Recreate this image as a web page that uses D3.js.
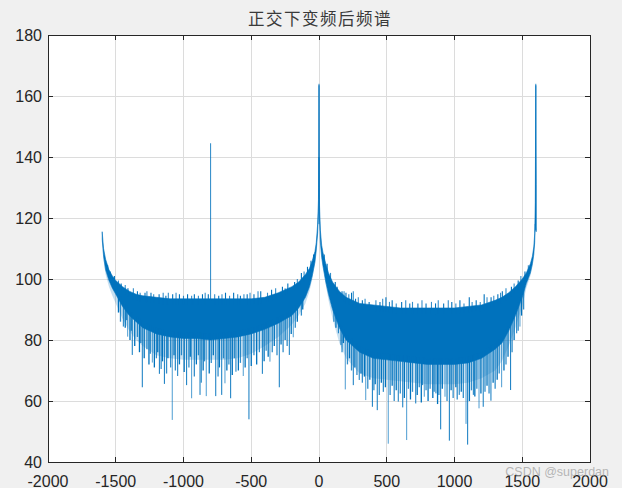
<!DOCTYPE html>
<html><head><meta charset="utf-8">
<script src="https://cdn.jsdelivr.net/npm/d3@7"></script>
<style>body{margin:0;background:#f0f0f0;overflow:hidden} svg{display:block}</style>
</head><body>
<svg id="c" width="622" height="488"></svg>
<script>
// ---------- data ----------
const titleText = "正交下变频后频谱";
const xTicks = [-2000,-1500,-1000,-500,0,500,1000,1500,2000];
const yTicks = [40,60,80,100,120,140,160,180];

// frequency grid of the envelope (Hz)
const freq = [-1600,-1590,-1575,-1550,-1525,-1500,-1450,-1400,-1350,-1300,
  -1200,-1100,-1000,-900,-800,-700,-600,-500,-400,-300,
  -200,-150,-100,-70,-50,-30,-20,-10,-4,-1,
  0,1,4,10,20,30,50,70,100,150,
  200,300,400,500,600,700,800,900,1000,1100,
  1200,1300,1350,1400,1450,1500,1530,1560,1575,1585,
  1592,1596,1600,1603];
// upper edge of the noise band (dB)
const upper = [115.5,110,106.5,103,101,99.5,97.5,96,95,94.5,
  94,93.5,93.5,93.5,93.5,93.5,93.5,93.5,94,95.5,
  97.5,99,101.5,103.5,106,109,112,118,126,140,
  163.5,140,124,116,111,108.5,105,102,99,96,
  94,92,91.5,91,90.5,90.5,90.5,90.5,90.5,91,
  91.5,93,94,95.5,97.5,100,102,105,107.5,110.5,
  115,125,163.5,131];
// lower edge of the dense part of the band (dB)
const lower = [113,107.5,103,99.5,97,95,91,88,86,84,
  82,81,80.5,80.5,80,80.5,81,82,83.5,85.5,
  88,90.5,94,97.5,101,105.5,109.5,115,122,130,
  140,130,120,112,107,104,99,95,90,84,
  80,76,74,73.5,73,72.5,72,72,72,72.5,
  74,77,79,83,88,94,98.5,102,105,108,
  112,118,116,115.5];
// lower edge of the sparse fringe (dB)
const fringe = [112,106,101.5,97.5,94.5,92,87,83,80,78,
  75,74,73.5,73.5,73.5,73.5,74,75.5,78,81,
  85,88,92,96,100,105,109,115,122,130,
  140,130,120,112,107,104,98,93,87,79,
  74,69,67.5,67,66.5,66,65.5,65.5,65.5,66,
  67.5,70,73,78,84,91,97,101,104,107.5,
  112,118,116,115.5];

// deep downward spikes
const downF = [-1444,-1412,-1378,-1304,-1230,-1178,-1141,-1083,-1043,-977,
  -940,-878,-869,-832,-762,-718,-694,-652,-613,-559,
  -517,-418,-362,-293,-219,-190,
  143,162,194,253,297,345,394,430,511,585,
  618,647,714,765,777,863,898,930,962,1035,
  1085,1097,1139,1181,1212,1269,1348,1414,1459,1483];
const downV = [84.4,81.1,75.1,64.5,72.6,68.9,65.6,53.8,68.2,65.2,
  60.9,62,66,61.6,61.6,62,65.8,60.9,69.6,68.2,
  54,68.9,72.9,64.5,75.1,80.9,
  82.2,78.4,63.8,65.2,66.9,60.3,58.1,57,46,59.8,
  57.9,47.2,59.2,65.2,61.4,62.5,50.7,61.4,47,62,
  52.5,45.7,62,57.6,58.1,60.1,64.5,63.6,82.2,84.4];
// shorter downward spikes in the fringe
const midF = [-1480,-1465,-1430,-1420,-1395,-1385,-1360,-1340,-1325,-1315,
  -1290,-1270,-1255,-1245,-1215,-1200,-1190,-1165,-1155,-1125,
  -1115,-1095,-1070,-1060,-1030,-1015,-995,-960,-950,-920,
  -905,-890,-855,-845,-810,-795,-780,-745,-735,-705,
  -680,-665,-640,-625,-595,-580,-545,-530,-500,-480,
  -460,-440,-405,-390,-375,-345,-330,-310,-280,-265,
  -250,-235,-205,-175,-160,-130,-120,
  110,125,170,180,210,225,240,265,280,310,
  320,335,360,375,405,415,445,460,475,490,
  525,540,555,570,600,630,660,675,690,725,
  740,755,790,805,820,840,850,875,885,910,
  945,975,990,1010,1020,1050,1065,1110,1125,1150,
  1165,1195,1225,1240,1255,1285,1300,1315,1330,1365,
  1380,1395,1425,1440,1470,1495,1510];
const midV = [89,86,84,86.5,80,83,78,81,76,79,
  74,77,72,75.5,71,74,76,70.5,73,69,
  74,71,75,70,72,75,69.5,71,74.5,68,
  72,75,70,73,69,72.5,75,68,71,74,
  70,72,68.5,74,70,72.5,71,74,71.5,75,
  72,76,73,76.5,74.5,76,78,75,78.5,76,
  80,78,82,84,86,88,90,
  86,84,76,79,72,74,70,71,68.5,69,
  66,68,64,67,63.5,65.5,62,66,63,64.5,
  62,65,60,63.5,62.5,61,64,60.5,63,62,
  64.5,59.5,63.5,60,64,61,63,59,62,64,
  60,63.5,61,64.5,60.5,63,61,60,63.5,61.5,
  64,62.5,63,65,62.5,66,64,67,69,70,
  72,74.5,76,80,83,88,90];
// small upward spikes above the band
const upF = [-1560,-1540,-1510,-1480,-1460,-1430,-1410,-1370,-1340,-1320,
  -1284,-1270,-1240,-1220,-1180,-1150,-1130,-1112,-1080,-1055,
  -1030,-1000,-970,-940,-920,-890,-860,-840,-817,-770,
  -740,-716,-690,-660,-630,-600,-580,-554,-530,-509,
  -480,-450,-430,-380,-350,-320,-270,-250,-230,-214,
  -180,-160,-130,-110,-85,-60,-40,
  40,60,85,120,135,170,185,199,220,240,
  253,270,290,320,340,370,420,450,470,494,
  520,540,570,610,640,670,690,730,760,790,
  830,860,880,920,954,980,1010,1040,1070,1109,
  1130,1160,1190,1219,1240,1270,1290,1320,1340,1353,
  1380,1420,1440,1470,1490,1520,1545];
const upV = [104.5,102.5,101,99.5,98.5,98,97,97,96,95.5,
  95.5,96,95.5,95,95,95.5,94.5,95.5,95,95.5,
  95,94.5,95,94.5,95,94.5,95,95.5,95,95,
  94.5,95,95.5,94.5,95.5,95,94.5,95,95,95.5,
  95,96,96,95.5,96.5,97,97.5,97,98.5,97,
  99,100,102,102.5,104,106,108,
  108,105,102,99,97.5,96,96,95.5,95,95.5,
  96,93.5,94,93,93.5,92.5,93,92.5,93.5,94,
  92.5,93,92,92.5,93,92,92.5,92,93,92,
  92.5,92,93,92,93,92.5,92,93,92,94,
  92.5,93,92.5,95,94,94,94.5,95,95.5,96,
  97,97.5,98.5,99.5,101,102.5,104.5];
// tall spectral lines
const peakF = [-800,0,1600];
const peakBase = [93,118,116];
const peakV = [144.5,164,164];

// ---------- layout ----------
const W = 622, H = 488;
const L = 48, R = 590, T = 35, B = 462;
const blue = "#0072BD";
const svg = d3.select("#c");
svg.append("rect").attr("width",W).attr("height",H).attr("fill","#f0f0f0");

const x = d3.scaleLinear().domain([-2000,2000]).range([L,R]);
const y = d3.scaleLinear().domain([40,180]).range([B,T]);

svg.append("rect").attr("x",L).attr("y",T).attr("width",R-L).attr("height",B-T).attr("fill","#fff");

// grid
const grid = svg.append("g").attr("shape-rendering","crispEdges");
grid.selectAll("line.gx").data(xTicks.slice(1,-1)).join("line")
  .attr("x1",d=>x(d)).attr("x2",d=>x(d)).attr("y1",T).attr("y2",B)
  .attr("stroke","#dcdcdc").attr("stroke-width",1);
grid.selectAll("line.gy").data(yTicks.slice(1,-1)).join("line")
  .attr("x1",L).attr("x2",R).attr("y1",d=>y(d)).attr("y2",d=>y(d))
  .attr("stroke","#dcdcdc").attr("stroke-width",1);

// data
svg.append("clipPath").attr("id","clip").append("rect")
  .attr("x",L).attr("y",T).attr("width",R-L).attr("height",B-T);
const plot = svg.append("g").attr("clip-path","url(#clip)");

const pts = freq.map((f,i)=>({f, hi:upper[i], lo:lower[i], fr:fringe[i]}));
const areaFr = d3.area().x(d=>x(d.f)).y0(d=>y(d.fr)).y1(d=>y(d.lo));
const areaMain = d3.area().x(d=>x(d.f)).y0(d=>y(d.lo)).y1(d=>y(d.hi));
plot.append("path").datum(pts).attr("d",areaFr).attr("fill",blue).attr("fill-opacity",0.22);
plot.append("path").datum(pts).attr("d",areaMain).attr("fill",blue)
  .attr("stroke",blue).attr("stroke-width",0.6);

const interp = (arr,f) => {
  const i = d3.bisectLeft(freq,f);
  if (i<=0) return arr[0];
  if (i>=freq.length) return arr[arr.length-1];
  const t = (f-freq[i-1])/(freq[i]-freq[i-1]);
  return arr[i-1]+t*(arr[i]-arr[i-1]);
};
function spikes(cls, F, V, topArr, off, opFn, w){
  plot.selectAll("line."+cls).data(F.map((f,i)=>({f,v:V[i],i}))).join("line")
    .attr("class",cls)
    .attr("x1",d=>x(d.f)).attr("x2",d=>x(d.f))
    .attr("y1",d=>y(d.v)).attr("y2",d=>y(interp(topArr,d.f)+off))
    .attr("stroke",blue).attr("stroke-width",w)
    .attr("stroke-opacity",opFn);
}
spikes("mid", midF, midV, lower, 2, d=>d.i%2?0.8:1, 1.3);
spikes("down", downF, downV, lower, 2, d=>d.i%3===1?0.7:0.95, 1);
spikes("up", upF, upV, upper, -2, d=>d.i%2?0.8:1, 1.1);
plot.selectAll("line.peak").data(peakF.map((f,i)=>({f,v:peakV[i],b:peakBase[i]}))).join("line")
  .attr("class","peak")
  .attr("x1",d=>x(d.f)).attr("x2",d=>x(d.f))
  .attr("y1",d=>y(d.v)).attr("y2",d=>y(d.b))
  .attr("stroke",blue).attr("stroke-width",1).attr("stroke-opacity",0.85);

// axes box and ticks (MATLAB style, ticks inside on all sides)
const ax = svg.append("g").attr("shape-rendering","crispEdges");
const axisColor = "#262626";
ax.append("rect").attr("x",L).attr("y",T).attr("width",R-L).attr("height",B-T)
  .attr("fill","none").attr("stroke",axisColor).attr("stroke-width",1);
const tl = 5;
xTicks.forEach(t=>{
  ax.append("line").attr("x1",x(t)).attr("x2",x(t)).attr("y1",B).attr("y2",B-tl).attr("stroke",axisColor);
  ax.append("line").attr("x1",x(t)).attr("x2",x(t)).attr("y1",T).attr("y2",T+tl).attr("stroke",axisColor);
});
yTicks.forEach(t=>{
  ax.append("line").attr("x1",L).attr("x2",L+tl).attr("y1",y(t)).attr("y2",y(t)).attr("stroke",axisColor);
  ax.append("line").attr("x1",R).attr("x2",R-tl).attr("y1",y(t)).attr("y2",y(t)).attr("stroke",axisColor);
});

const lab = svg.append("g").attr("font-family","'Liberation Sans', Arial, sans-serif")
  .attr("font-size",16).attr("fill",axisColor);
lab.selectAll("text.xl").data(xTicks).join("text")
  .attr("x",d=>x(d)).attr("y",486.5).attr("text-anchor","middle").text(d=>d);
lab.selectAll("text.yl").data(yTicks).join("text")
  .attr("x",L-6).attr("y",d=>y(d)+5.8).attr("text-anchor","end").text(d=>d);

// title
svg.append("text").attr("x",320).attr("y",25).attr("text-anchor","middle")
  .attr("font-family","'Noto Sans CJK SC', sans-serif").attr("font-size",16.5)
  .attr("letter-spacing","1.5px").attr("fill","#3a3a3a").text(titleText);

// watermark (overlaps the last tick labels, as in the reference)
svg.append("text").attr("x",609).attr("y",476).attr("text-anchor","end")
  .attr("font-family","'Liberation Sans', Arial, sans-serif").attr("font-size",12.5)
  .attr("fill","#a0a0a0").attr("fill-opacity",0.75).text("CSDN @superdan");
</script>
</body></html>
